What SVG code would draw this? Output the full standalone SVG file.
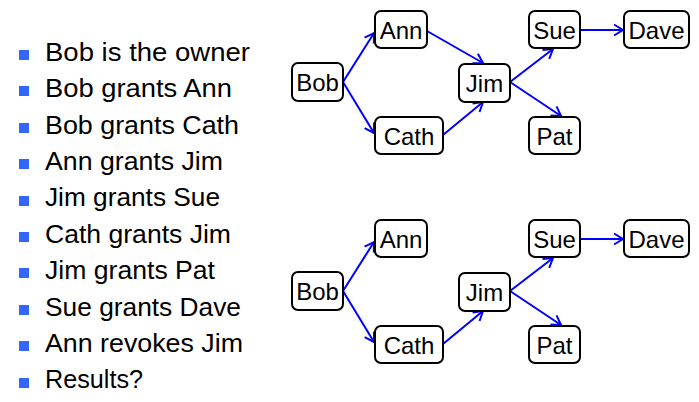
<svg xmlns="http://www.w3.org/2000/svg" width="699" height="402" viewBox="0 0 699 402">
<defs>
<style>
.b{fill:#3366FF}
.t{font-family:"Liberation Sans",Arial,sans-serif;font-size:25px;fill:#000}
.n rect{fill:#fff;stroke:#000;stroke-width:2}
.n text{font-family:"Liberation Sans",Arial,sans-serif;font-size:24px;fill:#000;text-anchor:middle}
.c path{fill:none;stroke:#0000FF;stroke-width:2;marker-end:url(#ah)}
</style>
<marker id="ah" markerUnits="userSpaceOnUse" markerWidth="14" markerHeight="14" refX="11" refY="7" orient="auto" viewBox="0 0 14 14">
<path d="M2,1.5 L11,7 L2,12.5" fill="none" stroke="#0000FF" stroke-width="2"/>
</marker>
</defs>
<rect width="699" height="402" fill="#fff"/>
<g id="bullets">
<rect class="b" x="19" y="50" width="10" height="10"/>
<rect class="b" x="19" y="86" width="10" height="10"/>
<rect class="b" x="19" y="123" width="10" height="10"/>
<rect class="b" x="19" y="159" width="10" height="10"/>
<rect class="b" x="19" y="196" width="10" height="10"/>
<rect class="b" x="19" y="232" width="10" height="10"/>
<rect class="b" x="19" y="268" width="10" height="10"/>
<rect class="b" x="19" y="305" width="10" height="10"/>
<rect class="b" x="19" y="341" width="10" height="10"/>
<rect class="b" x="19" y="378" width="10" height="10"/>
<text class="t" x="45" y="61" textLength="205" lengthAdjust="spacingAndGlyphs">Bob is the owner</text>
<text class="t" x="45" y="97" textLength="187" lengthAdjust="spacingAndGlyphs">Bob grants Ann</text>
<text class="t" x="45" y="134" textLength="194" lengthAdjust="spacingAndGlyphs">Bob grants Cath</text>
<text class="t" x="45" y="170" textLength="178" lengthAdjust="spacingAndGlyphs">Ann grants Jim</text>
<text class="t" x="45" y="206" textLength="175" lengthAdjust="spacingAndGlyphs">Jim grants Sue</text>
<text class="t" x="45" y="243" textLength="186" lengthAdjust="spacingAndGlyphs">Cath grants Jim</text>
<text class="t" x="45" y="279" textLength="170" lengthAdjust="spacingAndGlyphs">Jim grants Pat</text>
<text class="t" x="45" y="316" textLength="196" lengthAdjust="spacingAndGlyphs">Sue grants Dave</text>
<text class="t" x="45" y="352" textLength="198" lengthAdjust="spacingAndGlyphs">Ann revokes Jim</text>
<text class="t" x="45" y="388" textLength="98" lengthAdjust="spacingAndGlyphs">Results?</text>
</g>
<g id="connectors" class="c">
<path d="M343,82 L374,33"/>
<path d="M343,82 L374,133"/>
<path d="M427,31 L483,63"/>
<path d="M443,135 L483,102"/>
<path d="M510,82 L553,49"/>
<path d="M510,82 L561,116"/>
<path d="M580,30 L623,30"/>
<path d="M343,291 L374,242"/>
<path d="M343,291 L374,342"/>
<path d="M443,344 L483,311"/>
<path d="M510,291 L553,258"/>
<path d="M510,291 L561,325"/>
<path d="M580,239 L623,239"/>
</g>
<g id="bob1" class="n"><rect x="292" y="63" width="51" height="38" rx="6"/><text x="317.5" y="91">Bob</text></g>
<g id="ann1" class="n"><rect x="375" y="11" width="52" height="37" rx="6"/><text x="401" y="39">Ann</text></g>
<g id="cath1" class="n"><rect x="375" y="117" width="68" height="37" rx="6"/><text x="409" y="145">Cath</text></g>
<g id="jim1" class="n"><rect x="459" y="64" width="51" height="38" rx="6"/><text x="484.5" y="92">Jim</text></g>
<g id="sue1" class="n"><rect x="529" y="11" width="51" height="37" rx="6"/><text x="554.5" y="39">Sue</text></g>
<g id="dave1" class="n"><rect x="624" y="11" width="65" height="37" rx="6"/><text x="656.5" y="39">Dave</text></g>
<g id="pat1" class="n"><rect x="529" y="117" width="51" height="37" rx="6"/><text x="554.5" y="145">Pat</text></g>
<g id="bob2" class="n"><rect x="292" y="272" width="51" height="38" rx="6"/><text x="317.5" y="300">Bob</text></g>
<g id="ann2" class="n"><rect x="375" y="220" width="52" height="37" rx="6"/><text x="401" y="248">Ann</text></g>
<g id="cath2" class="n"><rect x="375" y="326" width="68" height="37" rx="6"/><text x="409" y="354">Cath</text></g>
<g id="jim2" class="n"><rect x="459" y="273" width="51" height="38" rx="6"/><text x="484.5" y="301">Jim</text></g>
<g id="sue2" class="n"><rect x="529" y="220" width="51" height="37" rx="6"/><text x="554.5" y="248">Sue</text></g>
<g id="dave2" class="n"><rect x="624" y="220" width="65" height="37" rx="6"/><text x="656.5" y="248">Dave</text></g>
<g id="pat2" class="n"><rect x="529" y="326" width="51" height="37" rx="6"/><text x="554.5" y="354">Pat</text></g>
</svg>
